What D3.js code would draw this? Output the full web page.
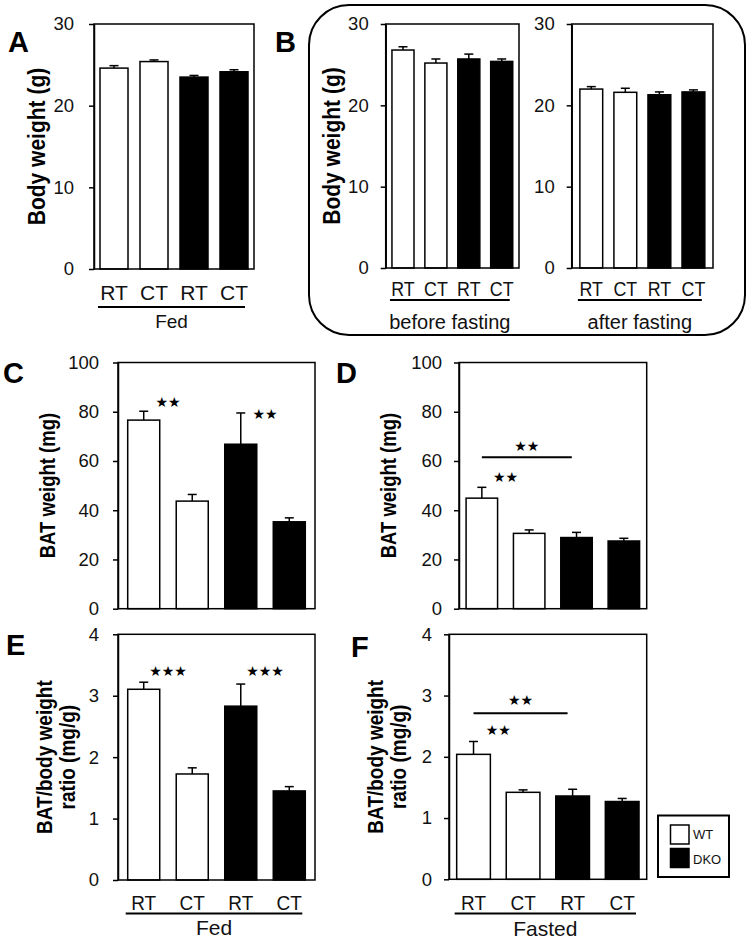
<!DOCTYPE html>
<html>
<head>
<meta charset="utf-8">
<script src="https://cdn.jsdelivr.net/npm/d3@7"></script>
<style>
  html, body { margin: 0; padding: 0; background: #fff; }
  svg { display: block; font-family: "Liberation Sans", Arial, sans-serif; }
</style>
</head>
<body>
<svg id="chart" width="747" height="942"></svg>
<script>
// ---------- DATA ----------
const categories = ["RT", "CT", "RT", "CT"];
const genotypes = ["WT", "WT", "DKO", "DKO"];

const bodyWeightFed = [24.6, 25.4, 23.5, 24.15];
const bodyWeightFedErr = [0.3, 0.2, 0.2, 0.25];

const bodyWeightBefore = [26.8, 25.2, 25.7, 25.4];
const bodyWeightBeforeErr = [0.4, 0.5, 0.6, 0.3];

const bodyWeightAfter = [22.0, 21.6, 21.3, 21.65];
const bodyWeightAfterErr = [0.3, 0.5, 0.35, 0.25];

const batWeightFed = [76.6, 43.7, 66.8, 35.3];
const batWeightFedErr = [3.6, 2.7, 12.7, 1.6];

const batWeightFasted = [44.9, 30.6, 28.9, 27.5];
const batWeightFastedErr = [4.4, 1.4, 2.1, 1.1];

const ratioFed = [3.105, 1.726, 2.83, 1.45];
const ratioFedErr = [0.115, 0.10, 0.36, 0.07];

const ratioFasted = [2.04, 1.42, 1.36, 1.27];
const ratioFastedErr = [0.21, 0.04, 0.11, 0.05];

const ticksBody = [0, 10, 20, 30];
const ticksBat = [0, 20, 40, 60, 80, 100];
const ticksRatio = [0, 1, 2, 3, 4];

// significance marks: stars between bars, or bracket from bar a to bar b
const starsC = [{ a: 0, b: 1, y: 84, text: "★★" }, { a: 2, b: 3, y: 79, text: "★★" }];
const starsD = [{ a: 0, b: 1, y: 53.6, text: "★★" }];
const bracketD = [{ a: 0, b: 2, y: 61.5, starY: 66, text: "★★" }];
const starsE = [{ a: 0, b: 1, y: 3.4, text: "★★★" }, { a: 2, b: 3, y: 3.4, text: "★★★" }];
const starsF = [{ a: 0, b: 1, y: 2.44, text: "★★" }];
const bracketF = [{ a: 0, b: 2, y: 2.71, starY: 2.93, text: "★★" }];

const legendItems = ["WT", "DKO"];

// ---------- DRAWING ----------
const svg = d3.select("#chart");
const fillOf = g => g === "WT" ? "#fff" : "#000";
const SW = 1.5;

function panel(cfg) {
  const g = svg.append("g");
  const x = d3.scaleBand().domain(d3.range(categories.length))
    .range([cfg.x0, cfg.x1]).paddingInner(cfg.pi).paddingOuter(cfg.po);
  const y = d3.scaleLinear().domain([cfg.ticks[0], cfg.ticks[cfg.ticks.length - 1]])
    .range([cfg.y0, cfg.y1]);
  const bw = x.bandwidth();

  g.selectAll("rect.bar").data(cfg.values).join("rect")
    .attr("x", (d, i) => x(i)).attr("width", bw)
    .attr("y", d => y(d)).attr("height", d => y(0) - y(d))
    .attr("fill", (d, i) => fillOf(genotypes[i]))
    .attr("stroke", "#000").attr("stroke-width", SW);

  const cap = 9;
  cfg.values.forEach((v, i) => {
    const cx = x(i) + bw / 2;
    g.append("line").attr("x1", cx).attr("x2", cx)
      .attr("y1", y(v)).attr("y2", y(v + cfg.err[i]))
      .attr("stroke", "#000").attr("stroke-width", SW);
    g.append("line").attr("x1", cx - cap / 2).attr("x2", cx + cap / 2)
      .attr("y1", y(v + cfg.err[i])).attr("y2", y(v + cfg.err[i]))
      .attr("stroke", "#000").attr("stroke-width", SW);
  });

  g.append("rect").attr("x", cfg.x0).attr("y", cfg.y1)
    .attr("width", cfg.x1 - cfg.x0).attr("height", cfg.y0 - cfg.y1)
    .attr("fill", "none").attr("stroke", "#000").attr("stroke-width", SW);

  const ax = g.append("g").attr("transform", `translate(${cfg.x0},0)`)
    .call(d3.axisLeft(y).tickValues(cfg.ticks).tickFormat(d3.format("d"))
      .tickSize(5).tickSizeOuter(0).tickPadding(cfg.tp));
  ax.select(".domain").attr("stroke-width", SW);
  ax.selectAll(".tick line").attr("stroke-width", SW);
  ax.selectAll(".tick text").attr("font-size", cfg.tfs).attr("fill", "#111")
    .attr("font-family", "Liberation Sans, Arial, sans-serif");

  if (cfg.label.length) {
    const s = cfg.labSy || 1;
    const lab = g.append("text")
      .attr("transform", `translate(${cfg.labX},${(cfg.y0 + cfg.y1) / 2}) rotate(-90) scale(1,${s})`)
      .attr("text-anchor", "middle").attr("font-weight", "bold").attr("font-size", cfg.labFs);
    cfg.label.forEach((t, k) => {
      lab.append("tspan").attr("x", 0).attr("dy", k === 0 ? 0 : cfg.labLine / s).text(t);
    });
  }

  if (cfg.letter) {
    g.append("text").attr("x", cfg.letterX).attr("y", cfg.letterY)
      .attr("font-weight", "bold").attr("font-size", 29).text(cfg.letter);
  }

  if (cfg.catY) {
    categories.forEach((c, i) => {
      g.append("text").attr("transform", `translate(${x(i) + bw / 2},${cfg.catY}) scale(${cfg.catSx || 1},1)`)
        .attr("text-anchor", "middle").attr("font-size", cfg.catFs).attr("fill", "#111").text(c);
    });
    const ux0 = x(0) - 2, ux1 = x(3) + bw - 3;
    g.append("line").attr("x1", ux0).attr("x2", ux1).attr("y1", cfg.ulY).attr("y2", cfg.ulY)
      .attr("stroke", "#000").attr("stroke-width", 2);
    g.append("text").attr("x", (ux0 + ux1) / 2).attr("y", cfg.grpY)
      .attr("text-anchor", "middle").attr("font-size", cfg.grpFs).attr("fill", "#111").text(cfg.group);
  }

  (cfg.stars || []).forEach(s => {
    const cx = (x(s.a) + bw + x(s.b)) / 2;
    g.append("text").attr("x", cx).attr("y", y(s.y)).attr("dy", "0.35em")
      .attr("text-anchor", "middle").attr("font-family", "DejaVu Sans")
      .attr("font-size", 14).text(s.text);
  });
  (cfg.brackets || []).forEach(s => {
    const xa = x(s.a) + bw / 2, xb = x(s.b) + bw * 0.35;
    g.append("line").attr("x1", xa).attr("x2", xb).attr("y1", y(s.y)).attr("y2", y(s.y))
      .attr("stroke", "#000").attr("stroke-width", 2);
    g.append("text").attr("x", (xa + xb) / 2).attr("y", y(s.starY)).attr("dy", "0.35em")
      .attr("text-anchor", "middle").attr("font-family", "DejaVu Sans")
      .attr("font-size", 14).text(s.text);
  });
  return { x, y };
}

// rounded box around B
svg.append("rect").attr("x", 309).attr("y", 5).attr("width", 436).attr("height", 330)
  .attr("rx", 40).attr("ry", 40).attr("fill", "none").attr("stroke", "#000").attr("stroke-width", 2);

// A
panel({ x0: 94, x1: 254, y0: 269, y1: 24, pi: 0.3, po: 0.15, ticks: ticksBody, tp: 15, tfs: 18.5,
  values: bodyWeightFed, err: bodyWeightFedErr, label: ["Body weight (g)"], labX: 45, labFs: 21, labSy: 1.12,
  letter: "A", letterX: 8, letterY: 52,
  catY: 300, catFs: 21, ulY: 307, grpY: 328, grpFs: 19, group: "Fed" });

// B left
panel({ x0: 385.7, x1: 519, y0: 268, y1: 24, pi: 0.33, po: 0.19, ticks: ticksBody, tp: 12, tfs: 18.5,
  values: bodyWeightBefore, err: bodyWeightBeforeErr, label: ["Body weight (g)"], labX: 340, labFs: 21, labSy: 1.12,
  letter: "B", letterX: 275, letterY: 52,
  catY: 296, catFs: 21, catSx: 0.85, ulY: 300, grpY: 329, grpFs: 20, group: "before fasting" });

// B right
panel({ x0: 571.7, x1: 713, y0: 268, y1: 24, pi: 0.33, po: 0.24, ticks: ticksBody, tp: 12, tfs: 18.5,
  values: bodyWeightAfter, err: bodyWeightAfterErr, label: [], labX: 0, labFs: 20,
  letter: "", letterX: 0, letterY: 0,
  catY: 296, catFs: 21, catSx: 0.85, ulY: 300, grpY: 329, grpFs: 20, group: "after fasting" });

// C
panel({ x0: 118, x1: 315, y0: 608.7, y1: 362.5, pi: 0.34, po: 0.2, ticks: ticksBat, tp: 14, tfs: 18.5,
  values: batWeightFed, err: batWeightFedErr, label: ["BAT weight (mg)"], labX: 55, labFs: 18.5, labSy: 1.2,
  letter: "C", letterX: 3, letterY: 383, stars: starsC });

// D
panel({ x0: 459, x1: 646.7, y0: 608.7, y1: 362.5, pi: 0.335, po: 0.15, ticks: ticksBat, tp: 12, tfs: 18.5,
  values: batWeightFasted, err: batWeightFastedErr, label: ["BAT weight (mg)"], labX: 396, labFs: 18.5, labSy: 1.2,
  letter: "D", letterX: 336, letterY: 383, stars: starsD, brackets: bracketD });

// E
panel({ x0: 118, x1: 315, y0: 880, y1: 634.3, pi: 0.34, po: 0.2, ticks: ticksRatio, tp: 14, tfs: 18.5,
  values: ratioFed, err: ratioFedErr, label: ["BAT/body weight", "ratio (mg/g)"], labX: 52, labFs: 19, labSy: 1.15, labLine: 23,
  letter: "E", letterX: 6, letterY: 655, stars: starsE,
  catY: 910, catFs: 20, catSx: 0.95, ulY: 913.5, grpY: 935, grpFs: 21, group: "Fed" });

// F
panel({ x0: 449, x1: 646.7, y0: 879.3, y1: 634.3, pi: 0.32, po: 0.155, ticks: ticksRatio, tp: 12, tfs: 18.5,
  values: ratioFasted, err: ratioFastedErr, label: ["BAT/body weight", "ratio (mg/g)"], labX: 383, labFs: 19, labSy: 1.15, labLine: 23,
  letter: "F", letterX: 351, letterY: 657, stars: starsF, brackets: bracketF,
  catY: 910, catFs: 20, catSx: 0.95, ulY: 913.5, grpY: 936, grpFs: 21, group: "Fasted" });

// legend
const lg = svg.append("g");
lg.append("rect").attr("x", 658).attr("y", 815.5).attr("width", 71).attr("height", 61.5)
  .attr("fill", "#fff").attr("stroke", "#000").attr("stroke-width", 2);
legendItems.forEach((t, i) => {
  lg.append("rect").attr("x", 670.5).attr("y", 825 + i * 23.5).attr("width", 18.5).attr("height", 19)
    .attr("fill", fillOf(t)).attr("stroke", "#000").attr("stroke-width", 1.5);
  lg.append("text").attr("x", 693).attr("y", 834.5 + i * 24.5).attr("dy", "0.35em")
    .attr("font-size", 13).attr("fill", "#111").text(t);
});
</script>
</body>
</html>
